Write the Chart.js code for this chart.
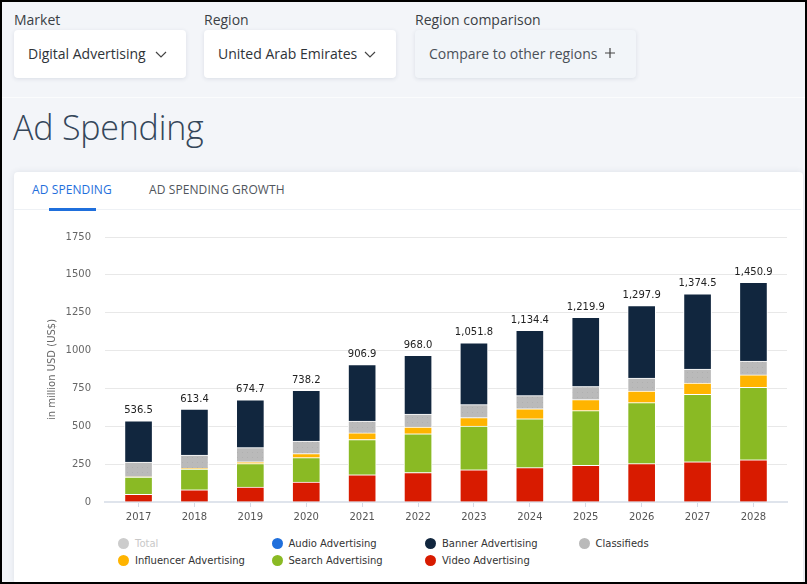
<!DOCTYPE html>
<html>
<head>
<meta charset="utf-8">
<script src="https://cdn.jsdelivr.net/npm/chart.js@4.4.1/dist/chart.umd.min.js"></script>
<style>
  html, body { margin: 0; padding: 0; }
  body {
    width: 807px; height: 584px; overflow: hidden; position: relative;
    background: #f3f5f9; font-family: "Open Sans", sans-serif; color: #333;
  }
  .frame { position: absolute; left: 0; top: 0; width: 807px; height: 584px; box-sizing: border-box;
    border: 2px solid #000; pointer-events: none; z-index: 10; }
  .lbl { position: absolute; top: 10px; font-size: 14px; color: #3b3f45; }
  .box { position: absolute; top: 30px; height: 48px; background: #fff; border-radius: 4px;
    box-shadow: 0 1px 4px rgba(40, 60, 90, 0.12); font-size: 14px; color: #2e3338;
    line-height: 47px; box-sizing: border-box; padding-left: 14px; }
  .box svg { position: absolute; top: 18px; }
  .box.alt { background: #f2f5f9; color: #4a5058; }
  .sep { position: absolute; left: 2px; right: 2px; top: 97px; height: 1px; background: #fbfcfd; }
  h1 { position: absolute; left: 13px; top: 104px; margin: 0; font-family: "Open Sans", sans-serif;
    font-weight: 300; font-size: 34px; color: #34465a; letter-spacing: -0.2px; }
  .card { position: absolute; left: 14px; top: 172px; right: 4px; bottom: 0; background: #fff;
    border-radius: 4px; box-shadow: 0 0 6px rgba(40, 60, 90, 0.1); }
  .tab { position: absolute; top: 181px; font-size: 12px; font-weight: 500; letter-spacing: 0.1px; }
  .tabline { position: absolute; left: 14px; right: 6px; top: 209px; height: 1px; background: #eef1f5; }
  .tabsel { position: absolute; left: 49px; top: 208px; width: 47px; height: 3px; background: #1f6fdc; }
  #wrap { position: absolute; left: 30px; top: 225px; width: 770px; height: 301px; }
  .leg { position: absolute; font-family: "DejaVu Sans", sans-serif; font-size: 10px; color: #333;
    white-space: nowrap; line-height: 12px; }
  .leg i { position: absolute; left: -17px; top: 0px; width: 11px; height: 11px; border-radius: 50%; }
</style>
</head>
<body>
<div class="frame"></div>

<div class="lbl" style="left:14px">Market</div>
<div class="lbl" style="left:204px">Region</div>
<div class="lbl" style="left:415px">Region comparison</div>

<div class="box" style="left:14px; width:172px">Digital Advertising
  <svg style="left:141px" width="12" height="12"><polyline points="1,4 6,9 11,4" fill="none" stroke="#444" stroke-width="1.2"/></svg>
</div>
<div class="box" style="left:204px; width:192px">United Arab Emirates
  <svg style="left:160px" width="12" height="12"><polyline points="1,4 6,9 11,4" fill="none" stroke="#444" stroke-width="1.2"/></svg>
</div>
<div class="box alt" style="left:415px; width:221px">Compare to other regions
  <svg style="left:189px; top:17px" width="12" height="12"><path d="M6,1 V11 M1,6 H11" fill="none" stroke="#444" stroke-width="1.2"/></svg>
</div>
<div class="sep"></div>

<h1>Ad Spending</h1>

<div class="card"></div>
<div class="tab" style="left:32px; color:#1f6fdc">AD SPENDING</div>
<div class="tab" style="left:149px; color:#50555c">AD SPENDING GROWTH</div>
<div class="tabline"></div>
<div class="tabsel"></div>

<div id="wrap"><canvas id="chart"></canvas></div>
<div id="legend"></div>

<script>
// values, million US$
const years = ['2017', '2018', '2019', '2020', '2021', '2022', '2023', '2024', '2025', '2026', '2027', '2028'];
const totals = [536.5, 613.4, 674.7, 738.2, 906.9, 968.0, 1051.8, 1134.4, 1219.9, 1297.9, 1374.5, 1450.9];
const video = [50, 81, 99, 132, 180, 194, 213, 227, 242, 253, 266, 279];
const search = [114, 136, 154, 161, 232, 257, 289, 323, 361, 403, 445, 478];
const influencer = [2, 5, 12, 26, 44, 44, 55, 66, 73, 77, 75, 82];
const classifieds = [97, 88, 94, 84, 79, 86, 86, 86, 86, 86, 92, 92];
const banner = [273.5, 303.4, 315.7, 335.2, 371.9, 387.0, 408.8, 432.4, 457.9, 478.9, 496.5, 519.9];
const audio = [0, 0, 0, 0, 0, 0, 0, 0, 0, 0, 0, 0]; // too small to see in the picture
const yTicks = [0, 250, 500, 750, 1000, 1250, 1500, 1750];

const chartFont = 'DejaVu Sans';

// faintly dotted grey fill used for classifieds
function dotPattern() {
    const c = document.createElement('canvas');
    c.width = 5; c.height = 5;
    const g = c.getContext('2d');
    g.fillStyle = '#bababa';
    g.fillRect(0, 0, 5, 5);
    g.fillStyle = '#b0b0b0';
    g.fillRect(2, 2, 1, 1);
    return g.createPattern(c, 'repeat');
}

// stack order bottom -> top
const series = [
    { label: 'Video Advertising', data: video, color: '#d81b00' },
    { label: 'Search Advertising', data: search, color: '#8aba24' },
    { label: 'Influencer Advertising', data: influencer, color: '#ffb400' },
    { label: 'Classifieds', data: classifieds, color: '#bababa', fill: dotPattern() },
    { label: 'Banner Advertising', data: banner, color: '#11263e' },
    { label: 'Audio Advertising', data: audio, color: '#1f6fdc' }
];

// total labels above each stack
const totalLabels = {
    id: 'totalLabels',
    afterDatasetsDraw(chart) {
        const ctx = chart.ctx;
        const x = chart.scales.x, y = chart.scales.y;
        ctx.save();
        ctx.font = '10px "' + chartFont + '"';
        ctx.fillStyle = '#222';
        ctx.textAlign = 'center';
        ctx.textBaseline = 'bottom';
        totals.forEach((t, i) => {
            const txt = t.toLocaleString('en-US', { minimumFractionDigits: 1, maximumFractionDigits: 1 });
            ctx.fillText(txt, x.getPixelForValue(i), y.getPixelForValue(t) - 5);
        });
        ctx.restore();
    }
};

const ctx = document.getElementById('chart').getContext('2d');
const chart = new Chart(ctx, {
    type: 'bar',
    data: {
        datasets: series.map(s => ({
            label: s.label,
            data: s.data.map((v, i) => ({ x: i, y: v })),
            backgroundColor: s.fill || s.color,
            borderColor: '#ffffff',
            borderWidth: 1,
            barThickness: 28
        }))
    },
    options: {
        responsive: true,
        maintainAspectRatio: false,
        animation: false,
        layout: { padding: { top: 12, right: 13, left: 0, bottom: 0 } },
        plugins: {
            legend: { display: false },
            tooltip: { enabled: false }
        },
        scales: {
            x: {
                type: 'linear',
                stacked: true,
                offset: false,
                min: -0.6,
                max: 11.6,
                afterBuildTicks: axis => { axis.ticks = years.map((_, i) => ({ value: i })); },
                afterFit: axis => { axis.height = 24; },
                ticks: {
                    callback: v => years[v],
                    font: { family: chartFont, size: 10 },
                    color: '#555',
                    padding: 4,
                    maxRotation: 0
                },
                grid: { drawOnChartArea: false, offset: false, tickLength: 5, color: '#d5dce6' },
                border: { color: '#dfe4ec', width: 2 }
            },
            y: {
                stacked: true,
                min: 0,
                max: 1750,
                afterBuildTicks: axis => { axis.ticks = yTicks.map(v => ({ value: v })); },
                afterFit: axis => { axis.width = 75; },
                ticks: {
                    callback: v => String(v),
                    font: { family: chartFont, size: 10 },
                    color: '#666',
                    padding: 0
                },
                // invisible tick marks give the gap between labels and plot
                grid: { color: '#e8e8e8', drawTicks: true, tickLength: 14, tickColor: 'rgba(0,0,0,0)' },
                border: { display: false },
                title: {
                    display: true,
                    text: 'in million USD (US$)',
                    font: { family: chartFont, size: 10 },
                    color: '#666',
                    padding: { top: 16, bottom: 0 }
                }
            }
        }
    },
    plugins: [totalLabels]
});

// legend laid out in columns like the reference
const legendItems = [
    { label: 'Total', color: '#cccccc', text: '#c8c8c8' },
    { label: 'Audio Advertising', color: '#1f6fdc' },
    { label: 'Banner Advertising', color: '#11263e' },
    { label: 'Classifieds', color: '#bababa' },
    { label: 'Influencer Advertising', color: '#ffb400' },
    { label: 'Search Advertising', color: '#8aba24' },
    { label: 'Video Advertising', color: '#d81b00' }
];
const legend = document.getElementById('legend');
legendItems.forEach((item, n) => {
    const el = document.createElement('div');
    el.className = 'leg';
    el.style.left = (135 + (n % 4) * 153.5) + 'px';
    el.style.top = (538 + Math.floor(n / 4) * 17) + 'px';
    if (item.text) el.style.color = item.text;
    el.innerHTML = '<i style="background:' + item.color + '"></i>' + item.label;
    legend.appendChild(el);
});
</script>
</body>
</html>
